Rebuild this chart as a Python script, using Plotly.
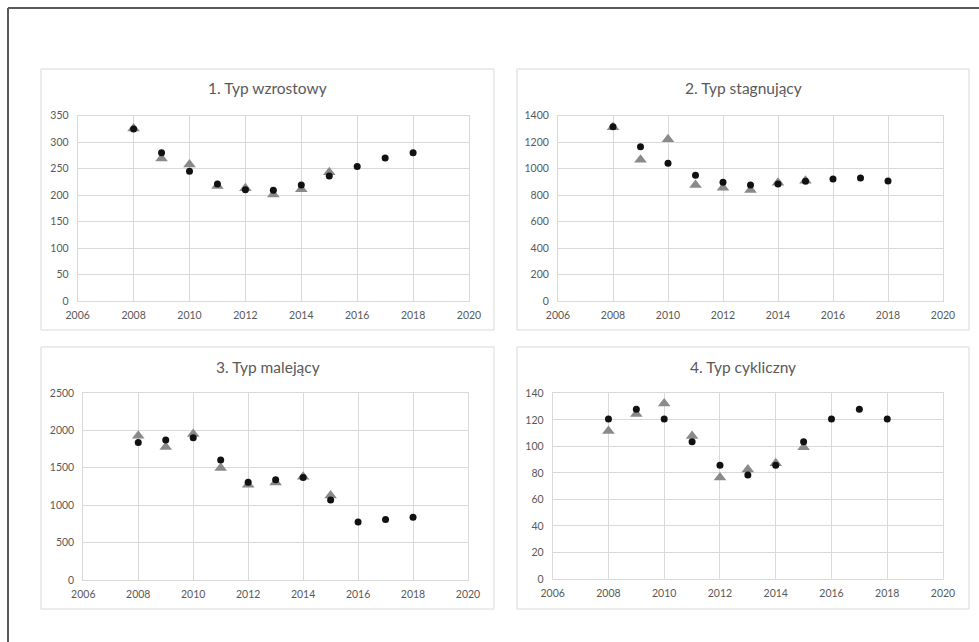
import plotly.graph_objects as go

W, H = 979, 642

years = [2008, 2009, 2010, 2011, 2012, 2013, 2014, 2015, 2016, 2017, 2018]
years_tri = [2008, 2009, 2010, 2011, 2012, 2013, 2014, 2015]

titles = ["1. Typ wzrostowy", "2. Typ stagnujący", "3. Typ malejący", "4. Typ cykliczny"]

circ_1 = [325, 280, 245, 221, 210, 209, 219, 236, 254, 270, 280]
tri_1 = [326, 269, 258, 217, 213, 201, 211, 243]

circ_2 = [1317, 1166, 1040, 950, 897, 877, 884, 904, 922, 929, 907]
tri_2 = [1312, 1068, 1222, 877, 856, 839, 894, 909]

circ_3 = [1839, 1871, 1902, 1603, 1308, 1339, 1371, 1071, 777, 808, 839]
tri_3 = [1929, 1777, 1951, 1496, 1272, 1304, 1380, 1129]

circ_4 = [120.7, 128, 120.7, 103.4, 85.8, 78.5, 85.8, 103.4, 120.7, 128, 120.7]
tri_4 = [111.6, 124.4, 132.4, 107.9, 76.5, 82.6, 87.3, 99.3]

y_max = [350, 1400, 2500, 140]
y_step = [50, 200, 500, 20]
x_range = [2006, 2020]

circ = [circ_1, circ_2, circ_3, circ_4]
tri = [tri_1, tri_2, tri_3, tri_4]

# plot-area pixel boxes: (left, right, top, bottom)
plot_px = [
    (77.7, 469, 115.7, 301),
    (558, 943, 115.7, 301),
    (83.3, 468, 393, 580),
    (552.7, 943, 393.3, 579),
]
# chart-box pixel rects
box_px = [
    (41, 494, 69, 330),
    (517, 969, 69, 330),
    (41, 494, 347, 609),
    (517, 969, 347, 609),
]
title_y_px = [88, 88, 367, 367]

FONT = "Lato, 'Open Sans', sans-serif"
TXT = "#595959"
GRID = "#d9d9d9"

fig = go.Figure()
layout = dict(
    template="none",
    width=W, height=H, autosize=False,
    margin=dict(l=0, r=0, t=0, b=0, pad=0, autoexpand=False),
    paper_bgcolor="white", plot_bgcolor="white",
    showlegend=False,
    font=dict(family=FONT, color=TXT, size=10.5),
    shapes=[], annotations=[],
)

def px(x):
    return x / W

def py(y):
    return 1 - y / H

for i in range(4):
    n = i + 1
    xa = "x" if n == 1 else f"x{n}"
    ya = "y" if n == 1 else f"y{n}"
    fig.add_trace(go.Scatter(
        x=years_tri, y=tri[i], mode="markers", xaxis=xa, yaxis=ya,
        marker=dict(symbol="triangle-up", size=11, color="#8a8a8a",
                    line=dict(width=0)),
        hoverinfo="skip", cliponaxis=False))
    fig.add_trace(go.Scatter(
        x=years, y=circ[i], mode="markers", xaxis=xa, yaxis=ya,
        marker=dict(symbol="circle", size=7, color="#111111",
                    line=dict(width=0)),
        hoverinfo="skip", cliponaxis=False))
    l, r, t, b = plot_px[i]
    xkey = "xaxis" if n == 1 else f"xaxis{n}"
    ykey = "yaxis" if n == 1 else f"yaxis{n}"
    layout[xkey] = dict(
        domain=[px(l), px(r)], anchor=ya, range=x_range, dtick=2, tick0=2006,
        showgrid=True, gridcolor=GRID, gridwidth=1, zeroline=False,
        showline=True, linecolor=GRID, linewidth=1, mirror=True,
        ticks="", tickfont=dict(size=10.5, color=TXT, family=FONT),
        ticklabelstandoff=4, automargin=False, fixedrange=True)
    layout[ykey] = dict(
        domain=[py(b), py(t)], anchor=xa, range=[0, y_max[i]], dtick=y_step[i],
        showgrid=True, gridcolor=GRID, gridwidth=1, zeroline=False,
        showline=True, linecolor=GRID, linewidth=1, mirror=True,
        ticks="", tickfont=dict(size=10.5, color=TXT, family=FONT),
        ticklabelstandoff=6, automargin=False, fixedrange=True)
    bl, br, bt, bb = box_px[i]
    layout["shapes"].append(dict(
        type="rect", xref="paper", yref="paper",
        x0=px(bl), x1=px(br), y0=py(bb), y1=py(bt),
        line=dict(color=GRID, width=1), fillcolor="rgba(0,0,0,0)", layer="below"))
    layout["annotations"].append(dict(
        text=titles[i], xref="paper", yref="paper",
        x=px((bl + br) / 2), y=py(title_y_px[i]),
        xanchor="center", yanchor="middle", showarrow=False,
        font=dict(size=15.5, color=TXT, family=FONT)))

# outer frame (left and top edges)
layout["shapes"].append(dict(type="line", xref="paper", yref="paper",
                             x0=px(8), x1=px(8), y0=0, y1=py(8),
                             line=dict(color="#5a5a5a", width=2)))
layout["shapes"].append(dict(type="line", xref="paper", yref="paper",
                             x0=px(8), x1=1, y0=py(8), y1=py(8),
                             line=dict(color="#5a5a5a", width=2)))

fig.update_layout(**layout)
fig.write_html(
    "out.html",
    config={"displayModeBar": False},
    post_script="document.body.style.margin='0';document.body.style.padding='0';document.body.style.overflow='hidden';",
)
